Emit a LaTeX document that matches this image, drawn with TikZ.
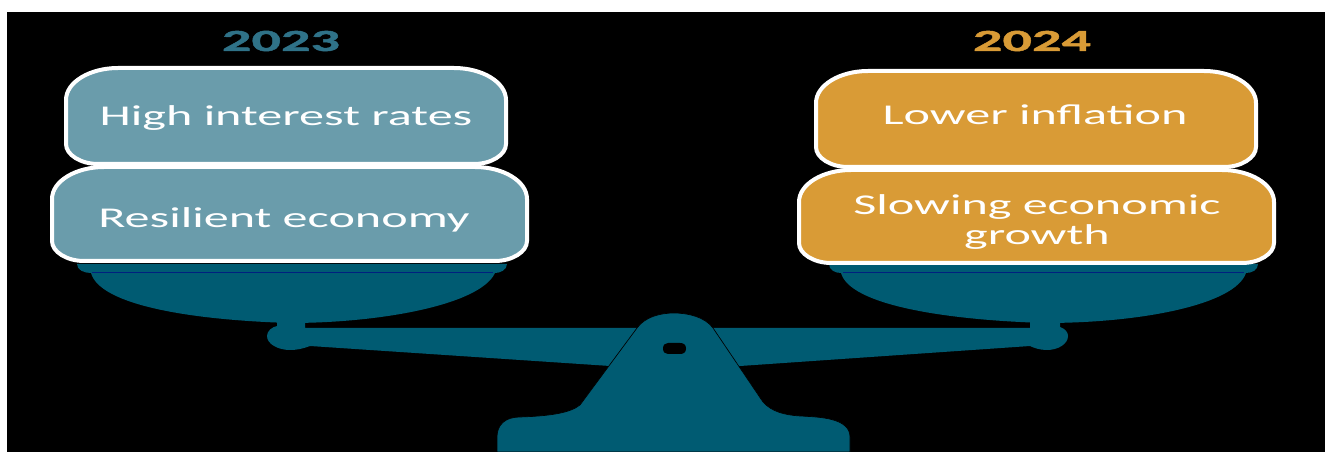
\documentclass[tikz,border=0pt]{standalone}
\usepackage{fontspec}
\setmainfont{Carlito}
\newfontfamily\boxfont[FakeStretch=1.75]{Carlito}
\newfontfamily\yearfont[FakeStretch=1.9,BoldFeatures={FakeBold=1.5}]{Carlito}
\usetikzlibrary{positioning, calc}
\definecolor{scaleteal}{HTML}{005B72}
\definecolor{rimline}{HTML}{00207F}
\definecolor{tealbox}{HTML}{6A9CAB}
\definecolor{tealyear}{HTML}{2F7288}
\definecolor{goldbox}{HTML}{D99B36}
% left, top, right, bottom, colour
\newcommand{\softbox}[5]{%
  \filldraw[bxline, fill=#5] (#1,{#2+32}) .. controls (#1,{#2+14}) and ({#1+24},#2) .. ({#1+52},#2)
    -- ({#3-52},#2) .. controls ({#3-24},#2) and (#3,{#2+14}) .. (#3,{#2+32})
    -- (#3,{#4-20}) .. controls (#3,{#4-9}) and ({#3-15},#4) .. ({#3-32},#4)
    -- ({#1+32},#4) .. controls ({#1+15},#4) and (#1,{#4-9}) .. (#1,{#4-20}) -- cycle;
}

\begin{document}
\begin{tikzpicture}[
  x=0.75pt, y=-0.75pt,
  every node/.append style={inner sep=0pt, outer sep=0pt},
  bxline/.style={draw=white, line width=3pt},
  bx/.style={align=center, font=\boxfont\fontsize{21.5}{22}\selectfont, text=white},
  yr/.style={font=\yearfont\bfseries\fontsize{23}{23}\selectfont},
  part/.style={fill=scaleteal},
]
\useasboundingbox (0,0) rectangle (1325,452);
\fill[black] (7,12) rectangle (1325,452);

%% years
\node[yr, text=tealyear] (y23) at (281, 41) {2023};
\node[yr, text=goldbox]  (y24) at (1032,41) {2024};

%% left pan
\fill[part] (77,264) -- (507,264) .. controls (507,270) and (500,273) .. (495,273) .. controls (480,305) and (380,323) .. (290,323) .. controls (190,320) and (100,305) .. (91,273) .. controls (84,273) and (77,270) .. (77,264) -- cycle;
\draw[rimline, line width=0.8pt] (92,272.5) -- (493,272.5);
%% right pan
\fill[part] (829,264) -- (1258,264) .. controls (1258,270) and (1252,273) .. (1246,273) .. controls (1235,305) and (1140,323) .. (1045,323) .. controls (945,320) and (850,305) .. (841,273) .. controls (835,273) and (829,270) .. (829,264) -- cycle;
\draw[rimline, line width=0.8pt] (843,272.5) -- (1244,272.5);

%% beam
\fill[part] (277,322) -- (305,322) -- (305,328) -- (1030,328) -- (1030,322) -- (1060,322) -- (1060,327)
  .. controls (1066,329) and (1068,333) .. (1068,336) .. controls (1068,344) and (1058,350) .. (1047,350)
  .. controls (1040,350) and (1034,348) .. (1030,346) -- (740,366) -- (610,366) -- (310,346)
  .. controls (302,349) and (296,350) .. (290,350) .. controls (278,350) and (267,344) .. (267,336)
  .. controls (267,331) and (272,327) .. (277,326) -- cycle;

%% stand
\filldraw[part, draw=black, line width=0.5pt] (497,452) -- (497,437) .. controls (497,425) and (505,417) .. (520,417)
  .. controls (550,416) and (570,413) .. (580,405) -- (637,328) .. controls (645,317) and (660,313) .. (674,313)
  .. controls (688,313) and (705,317) .. (713,328) -- (763,402) .. controls (772,412) and (785,415) .. (800,416)
  .. controls (820,417) and (850,418) .. (850,437) -- (850,452) -- cycle;
\fill[black] (668,343) -- (680,343) .. controls (684,343) and (686,345) .. (686,348.5) .. controls (686,352) and (684,354) .. (680,354)
  -- (668,354) .. controls (665,354) and (663,352) .. (663,348.5) .. controls (663,345) and (665,343) .. (668,343) -- cycle;

%% boxes
\softbox{66}{68}{506}{164}{tealbox}
\softbox{52}{167}{527}{261}{tealbox}
\softbox{816}{71}{1256}{167}{goldbox}
\softbox{799}{170}{1274}{263}{goldbox}

\node[bx] (hir) at (286, 118) {High interest rates};
\node[bx] (res) at (284, 220) {Resilient economy};
\node[bx] (inf) at (1035,115) {Lower inflation};
\node[bx] (gro) at (1037,222) {Slowing economic\\growth};

\end{tikzpicture}
\end{document}
